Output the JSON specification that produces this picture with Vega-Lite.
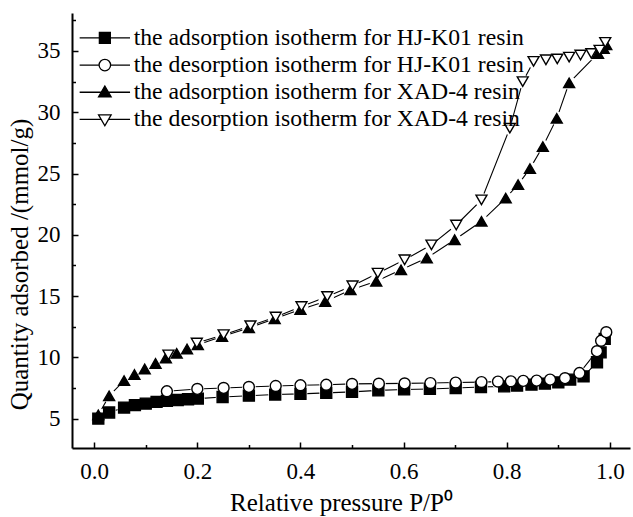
{
  "$schema": "https://vega.github.io/schema/vega-lite/v6.json",
  "autosize": "none",
  "width": 558,
  "height": 435,
  "padding": {"left": 72, "top": 13, "right": 3, "bottom": 69},
  "background": "white",
  "config": {
    "view": {"stroke": null},
    "font": "Liberation Serif",
    "axis": {
      "grid": false,
      "domainColor": "black",
      "domainWidth": 2,
      "tickColor": "black",
      "tickWidth": 1.5,
      "labelFont": "Liberation Serif",
      "labelColor": "black",
      "labelFontSize": 23,
      "titleFont": "Liberation Serif",
      "titleColor": "black",
      "titleFontSize": 25,
      "titleFontWeight": "normal",
      "labelFlush": false,
      "labelOverlap": false
    },
    "legend": {
      "title": null,
      "orient": "none",
      "legendX": 6,
      "legendY": 13,
      "padding": 0,
      "labelFont": "Liberation Serif",
      "labelFontSize": 23.7,
      "labelColor": "black",
      "labelLimit": 600,
      "rowPadding": 2.2,
      "symbolSize": 120,
      "symbolOpacity": 1,
      "symbolStrokeWidth": 1.3,
      "symbolOffset": 15,
      "labelOffset": 17
    }
  },
  "datasets": {
    "iso": [
      {"s": "the adsorption isotherm for HJ-K01 resin", "p": 0.008, "q": 5.0},
      {"s": "the adsorption isotherm for HJ-K01 resin", "p": 0.029, "q": 5.5},
      {"s": "the adsorption isotherm for HJ-K01 resin", "p": 0.058, "q": 5.9},
      {"s": "the adsorption isotherm for HJ-K01 resin", "p": 0.079, "q": 6.1},
      {"s": "the adsorption isotherm for HJ-K01 resin", "p": 0.1, "q": 6.22},
      {"s": "the adsorption isotherm for HJ-K01 resin", "p": 0.121, "q": 6.36},
      {"s": "the adsorption isotherm for HJ-K01 resin", "p": 0.141, "q": 6.45},
      {"s": "the adsorption isotherm for HJ-K01 resin", "p": 0.162, "q": 6.52},
      {"s": "the adsorption isotherm for HJ-K01 resin", "p": 0.182, "q": 6.58},
      {"s": "the adsorption isotherm for HJ-K01 resin", "p": 0.201, "q": 6.63},
      {"s": "the adsorption isotherm for HJ-K01 resin", "p": 0.249, "q": 6.76},
      {"s": "the adsorption isotherm for HJ-K01 resin", "p": 0.3, "q": 6.87},
      {"s": "the adsorption isotherm for HJ-K01 resin", "p": 0.351, "q": 6.96},
      {"s": "the adsorption isotherm for HJ-K01 resin", "p": 0.4, "q": 7.02},
      {"s": "the adsorption isotherm for HJ-K01 resin", "p": 0.45, "q": 7.1},
      {"s": "the adsorption isotherm for HJ-K01 resin", "p": 0.5, "q": 7.18},
      {"s": "the adsorption isotherm for HJ-K01 resin", "p": 0.551, "q": 7.3},
      {"s": "the adsorption isotherm for HJ-K01 resin", "p": 0.601, "q": 7.38},
      {"s": "the adsorption isotherm for HJ-K01 resin", "p": 0.651, "q": 7.42},
      {"s": "the adsorption isotherm for HJ-K01 resin", "p": 0.701, "q": 7.5},
      {"s": "the adsorption isotherm for HJ-K01 resin", "p": 0.75, "q": 7.58},
      {"s": "the adsorption isotherm for HJ-K01 resin", "p": 0.795, "q": 7.63},
      {"s": "the adsorption isotherm for HJ-K01 resin", "p": 0.82, "q": 7.69},
      {"s": "the adsorption isotherm for HJ-K01 resin", "p": 0.848, "q": 7.77},
      {"s": "the adsorption isotherm for HJ-K01 resin", "p": 0.874, "q": 7.85},
      {"s": "the adsorption isotherm for HJ-K01 resin", "p": 0.9, "q": 7.96},
      {"s": "the adsorption isotherm for HJ-K01 resin", "p": 0.923, "q": 8.18},
      {"s": "the adsorption isotherm for HJ-K01 resin", "p": 0.949, "q": 8.45},
      {"s": "the adsorption isotherm for HJ-K01 resin", "p": 0.975, "q": 9.6},
      {"s": "the adsorption isotherm for HJ-K01 resin", "p": 0.982, "q": 10.4},
      {"s": "the adsorption isotherm for HJ-K01 resin", "p": 0.99, "q": 11.5},

      {"s": "the desorption isotherm for HJ-K01 resin", "p": 0.141, "q": 7.23},
      {"s": "the desorption isotherm for HJ-K01 resin", "p": 0.2, "q": 7.42},
      {"s": "the desorption isotherm for HJ-K01 resin", "p": 0.251, "q": 7.5},
      {"s": "the desorption isotherm for HJ-K01 resin", "p": 0.3, "q": 7.58},
      {"s": "the desorption isotherm for HJ-K01 resin", "p": 0.352, "q": 7.66},
      {"s": "the desorption isotherm for HJ-K01 resin", "p": 0.4, "q": 7.72},
      {"s": "the desorption isotherm for HJ-K01 resin", "p": 0.45, "q": 7.76},
      {"s": "the desorption isotherm for HJ-K01 resin", "p": 0.5, "q": 7.83},
      {"s": "the desorption isotherm for HJ-K01 resin", "p": 0.552, "q": 7.85},
      {"s": "the desorption isotherm for HJ-K01 resin", "p": 0.602, "q": 7.87},
      {"s": "the desorption isotherm for HJ-K01 resin", "p": 0.652, "q": 7.9},
      {"s": "the desorption isotherm for HJ-K01 resin", "p": 0.701, "q": 7.94},
      {"s": "the desorption isotherm for HJ-K01 resin", "p": 0.751, "q": 7.98},
      {"s": "the desorption isotherm for HJ-K01 resin", "p": 0.783, "q": 8.02},
      {"s": "the desorption isotherm for HJ-K01 resin", "p": 0.808, "q": 8.04},
      {"s": "the desorption isotherm for HJ-K01 resin", "p": 0.832, "q": 8.08},
      {"s": "the desorption isotherm for HJ-K01 resin", "p": 0.858, "q": 8.1},
      {"s": "the desorption isotherm for HJ-K01 resin", "p": 0.884, "q": 8.18},
      {"s": "the desorption isotherm for HJ-K01 resin", "p": 0.913, "q": 8.3},
      {"s": "the desorption isotherm for HJ-K01 resin", "p": 0.941, "q": 8.72},
      {"s": "the desorption isotherm for HJ-K01 resin", "p": 0.975, "q": 10.5},
      {"s": "the desorption isotherm for HJ-K01 resin", "p": 0.983, "q": 11.35},
      {"s": "the desorption isotherm for HJ-K01 resin", "p": 0.993, "q": 12.05},

      {"s": "the adsorption isotherm for XAD-4 resin", "p": 0.008, "q": 5.3},
      {"s": "the adsorption isotherm for XAD-4 resin", "p": 0.029, "q": 6.85},
      {"s": "the adsorption isotherm for XAD-4 resin", "p": 0.058, "q": 8.1},
      {"s": "the adsorption isotherm for XAD-4 resin", "p": 0.078, "q": 8.6},
      {"s": "the adsorption isotherm for XAD-4 resin", "p": 0.098, "q": 9.05},
      {"s": "the adsorption isotherm for XAD-4 resin", "p": 0.119, "q": 9.5},
      {"s": "the adsorption isotherm for XAD-4 resin", "p": 0.139, "q": 9.95},
      {"s": "the adsorption isotherm for XAD-4 resin", "p": 0.16, "q": 10.33},
      {"s": "the adsorption isotherm for XAD-4 resin", "p": 0.18, "q": 10.68},
      {"s": "the adsorption isotherm for XAD-4 resin", "p": 0.201, "q": 11.03},
      {"s": "the adsorption isotherm for XAD-4 resin", "p": 0.248, "q": 11.7},
      {"s": "the adsorption isotherm for XAD-4 resin", "p": 0.3, "q": 12.4},
      {"s": "the adsorption isotherm for XAD-4 resin", "p": 0.35, "q": 13.15},
      {"s": "the adsorption isotherm for XAD-4 resin", "p": 0.4, "q": 13.9},
      {"s": "the adsorption isotherm for XAD-4 resin", "p": 0.448, "q": 14.56},
      {"s": "the adsorption isotherm for XAD-4 resin", "p": 0.497, "q": 15.5},
      {"s": "the adsorption isotherm for XAD-4 resin", "p": 0.547, "q": 16.2},
      {"s": "the adsorption isotherm for XAD-4 resin", "p": 0.595, "q": 17.14},
      {"s": "the adsorption isotherm for XAD-4 resin", "p": 0.645, "q": 18.1},
      {"s": "the adsorption isotherm for XAD-4 resin", "p": 0.699, "q": 19.6},
      {"s": "the adsorption isotherm for XAD-4 resin", "p": 0.751, "q": 21.1},
      {"s": "the adsorption isotherm for XAD-4 resin", "p": 0.798, "q": 23.0},
      {"s": "the adsorption isotherm for XAD-4 resin", "p": 0.822, "q": 24.1},
      {"s": "the adsorption isotherm for XAD-4 resin", "p": 0.845, "q": 25.4},
      {"s": "the adsorption isotherm for XAD-4 resin", "p": 0.87, "q": 27.2},
      {"s": "the adsorption isotherm for XAD-4 resin", "p": 0.897, "q": 29.5},
      {"s": "the adsorption isotherm for XAD-4 resin", "p": 0.921, "q": 32.4},
      {"s": "the adsorption isotherm for XAD-4 resin", "p": 0.977, "q": 34.8},
      {"s": "the adsorption isotherm for XAD-4 resin", "p": 0.988, "q": 35.2},
      {"s": "the adsorption isotherm for XAD-4 resin", "p": 0.993, "q": 35.5},

      {"s": "the desorption isotherm for XAD-4 resin", "p": 0.144, "q": 10.2},
      {"s": "the desorption isotherm for XAD-4 resin", "p": 0.199, "q": 11.17},
      {"s": "the desorption isotherm for XAD-4 resin", "p": 0.251, "q": 11.85},
      {"s": "the desorption isotherm for XAD-4 resin", "p": 0.303, "q": 12.58},
      {"s": "the desorption isotherm for XAD-4 resin", "p": 0.352, "q": 13.29},
      {"s": "the desorption isotherm for XAD-4 resin", "p": 0.402, "q": 14.15},
      {"s": "the desorption isotherm for XAD-4 resin", "p": 0.452, "q": 14.97},
      {"s": "the desorption isotherm for XAD-4 resin", "p": 0.501, "q": 15.84},
      {"s": "the desorption isotherm for XAD-4 resin", "p": 0.55, "q": 16.87},
      {"s": "the desorption isotherm for XAD-4 resin", "p": 0.602, "q": 17.96},
      {"s": "the desorption isotherm for XAD-4 resin", "p": 0.654, "q": 19.18},
      {"s": "the desorption isotherm for XAD-4 resin", "p": 0.702, "q": 20.8},
      {"s": "the desorption isotherm for XAD-4 resin", "p": 0.751, "q": 22.85},
      {"s": "the desorption isotherm for XAD-4 resin", "p": 0.806, "q": 28.7},
      {"s": "the desorption isotherm for XAD-4 resin", "p": 0.831, "q": 32.5},
      {"s": "the desorption isotherm for XAD-4 resin", "p": 0.852, "q": 34.15},
      {"s": "the desorption isotherm for XAD-4 resin", "p": 0.876, "q": 34.28},
      {"s": "the desorption isotherm for XAD-4 resin", "p": 0.898, "q": 34.35},
      {"s": "the desorption isotherm for XAD-4 resin", "p": 0.921, "q": 34.5},
      {"s": "the desorption isotherm for XAD-4 resin", "p": 0.943, "q": 34.67},
      {"s": "the desorption isotherm for XAD-4 resin", "p": 0.964, "q": 34.8},
      {"s": "the desorption isotherm for XAD-4 resin", "p": 0.98, "q": 35.07},
      {"s": "the desorption isotherm for XAD-4 resin", "p": 0.991, "q": 35.7}
    ]
  },
  "data": {"name": "iso"},
  "resolve": {
    "axis": {"x": "independent", "y": "independent"},
    "scale": {"shape": "independent", "fill": "independent", "stroke": "independent"}
  },
  "layer": [
    {
      "mark": {"type": "line", "color": "black", "strokeWidth": 1.1},
      "encoding": {
        "x": {
          "field": "p",
          "type": "quantitative",
          "scale": {"domain": [-0.043, 1.039], "nice": false, "zero": false},
          "axis": {
            "orient": "bottom",
            "title": "Relative pressure P/P⁰",
            "values": [0, 0.2, 0.4, 0.6, 0.8, 1.0],
            "format": ".1f",
            "ticks": false,
            "labelPadding": 12,
            "titlePadding": 7,
            "titleX": 269
          }
        },
        "y": {
          "field": "q",
          "type": "quantitative",
          "scale": {"domain": [2.6, 38.1], "nice": false, "zero": false},
          "axis": {
            "orient": "left",
            "title": "Quantity adsorbed /(mmol/g)",
            "values": [5, 10, 15, 20, 25, 30, 35],
            "ticks": false,
            "labelPadding": 12,
            "titlePadding": 5,
            "titleY": 251
          }
        },
        "detail": {"field": "s", "type": "nominal"}
      }
    },
    {
      "mark": {"type": "point", "opacity": 0},
      "encoding": {
        "x": {
          "field": "p",
          "type": "quantitative",
          "axis": {
            "orient": "top",
            "offset": -435,
            "title": null,
            "values": [0, 0.2, 0.4, 0.6, 0.8, 1.0],
            "labels": false,
            "domain": false,
            "tickSize": 6
          }
        },
        "y": {
          "field": "q",
          "type": "quantitative",
          "axis": {
            "orient": "right",
            "offset": -558,
            "title": null,
            "values": [5, 10, 15, 20, 25, 30, 35],
            "labels": false,
            "domain": false,
            "tickSize": 6
          }
        }
      }
    },
    {
      "mark": {"type": "point", "opacity": 0},
      "encoding": {
        "x": {
          "field": "p",
          "type": "quantitative",
          "axis": {
            "orient": "top",
            "offset": -435,
            "title": null,
            "values": [0.1, 0.3, 0.5, 0.7, 0.9],
            "labels": false,
            "domain": false,
            "tickSize": 3.5
          }
        },
        "y": {
          "field": "q",
          "type": "quantitative",
          "axis": {
            "orient": "right",
            "offset": -558,
            "title": null,
            "values": [2.5, 7.5, 12.5, 17.5, 22.5, 27.5, 32.5, 37.5],
            "labels": false,
            "domain": false,
            "tickSize": 3.5
          }
        }
      }
    },
    {
      "mark": {"type": "circle", "color": "white", "size": 190, "opacity": 1},
      "encoding": {
        "x": {"field": "p", "type": "quantitative", "axis": null},
        "y": {"field": "q", "type": "quantitative", "axis": null}
      }
    },
    {
      "mark": {"type": "point", "filled": true, "stroke": "black", "strokeWidth": 1.4, "size": 120, "opacity": 1},
      "encoding": {
        "x": {"field": "p", "type": "quantitative", "axis": null},
        "y": {"field": "q", "type": "quantitative", "axis": null},
        "shape": {
          "field": "s",
          "type": "nominal",
          "sort": null,
          "scale": {
            "domain": ["the adsorption isotherm for HJ-K01 resin", "the desorption isotherm for HJ-K01 resin", "the adsorption isotherm for XAD-4 resin", "the desorption isotherm for XAD-4 resin"],
            "range": ["square", "circle", "triangle-up", "triangle-down"]
          },
          "legend": null
        },
        "fill": {
          "field": "s",
          "type": "nominal",
          "sort": null,
          "scale": {
            "domain": ["the adsorption isotherm for HJ-K01 resin", "the desorption isotherm for HJ-K01 resin", "the adsorption isotherm for XAD-4 resin", "the desorption isotherm for XAD-4 resin"],
            "range": ["black", "white", "black", "white"]
          },
          "legend": null
        }
      }
    },
    {
      "mark": {"type": "point", "filled": false, "strokeWidth": 1.3, "size": 120, "opacity": 0},
      "encoding": {
        "x": {"field": "p", "type": "quantitative", "axis": null},
        "y": {"field": "q", "type": "quantitative", "axis": null},
        "shape": {
          "field": "s",
          "type": "nominal",
          "sort": null,
          "scale": {
            "domain": ["the adsorption isotherm for HJ-K01 resin", "the desorption isotherm for HJ-K01 resin", "the adsorption isotherm for XAD-4 resin", "the desorption isotherm for XAD-4 resin"],
            "range": [
              "M-4.6,0H-1M1,0H4.6M-1,-1H1V1H-1Z",
              "M-4.6,0H-1.05M1.05,0H4.6M1.05,0A1.05,1.05,0,1,1,-1.05,0A1.05,1.05,0,1,1,1.05,0Z",
              "M-4.6,0H-0.6M0.6,0H4.6M0,-1.15L1.15,0.85H-1.15Z",
              "M-4.6,0H-0.6M0.6,0H4.6M-1.15,-0.85H1.15L0,1.15Z"
            ]
          },
          "legend": {"symbolOpacity": 1}
        },
        "fill": {
          "field": "s",
          "type": "nominal",
          "sort": null,
          "scale": {
            "domain": ["the adsorption isotherm for HJ-K01 resin", "the desorption isotherm for HJ-K01 resin", "the adsorption isotherm for XAD-4 resin", "the desorption isotherm for XAD-4 resin"],
            "range": ["black", "white", "black", "white"]
          },
          "legend": {"symbolOpacity": 1}
        },
        "stroke": {
          "field": "s",
          "type": "nominal",
          "sort": null,
          "scale": {
            "domain": ["the adsorption isotherm for HJ-K01 resin", "the desorption isotherm for HJ-K01 resin", "the adsorption isotherm for XAD-4 resin", "the desorption isotherm for XAD-4 resin"],
            "range": ["black", "black", "black", "black"]
          },
          "legend": {"symbolOpacity": 1}
        }
      }
    }
  ]
}
